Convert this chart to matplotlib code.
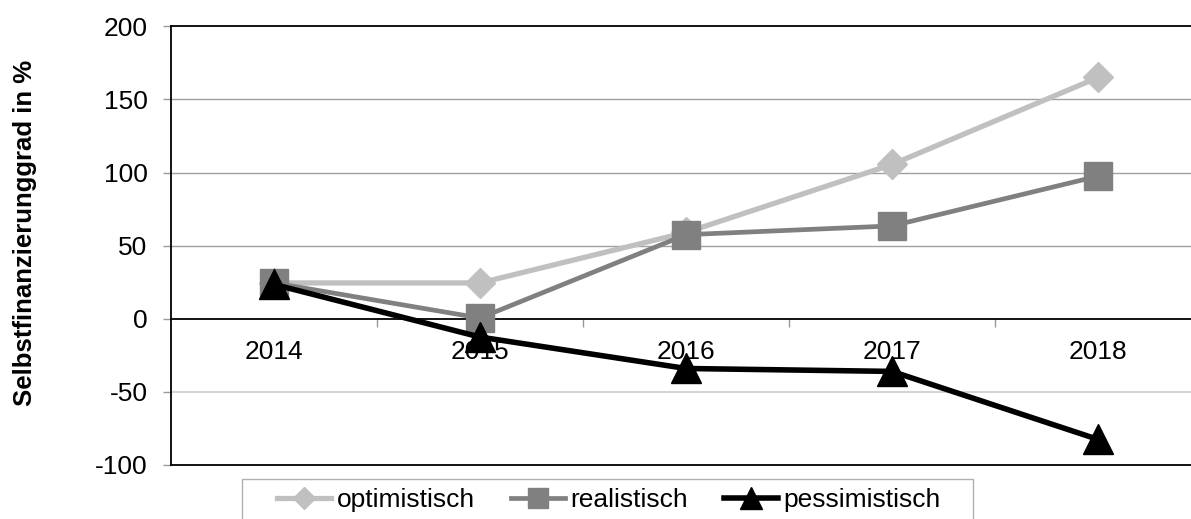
import matplotlib
matplotlib.use("Agg")
import matplotlib.pyplot as plt
from matplotlib.ticker import FixedLocator, NullFormatter
from matplotlib.patches import Rectangle

plt.rcParams['font.family'] = ['Liberation Sans', 'DejaVu Sans']

years = ['2014', '2015', '2016', '2017', '2018']
optimistisch = [24.5, 24.5, 59, 105.5, 165]
realistisch = [24.5, 0.5, 57.5, 63.5, 97.5]
pessimistisch = [23.5, -12.5, -34, -36, -82.5]
yticks = [-100, -50, 0, 50, 100, 150, 200]

W, H = 1191, 519
fig = plt.figure(figsize=(W / 100, H / 100), dpi=100)
ax = fig.add_axes([171 / W, 1 - 465 / H, 1030 / W, (465 - 26.3) / H])

x = list(range(len(years)))
ax.plot(x, optimistisch, color='#c0c0c0', lw=3.8, marker='D', ms=15.5,
        mec='#c0c0c0', mfc='#c0c0c0', label='optimistisch', zorder=3)
ax.plot(x, realistisch, color='#808080', lw=3.4, marker='s', ms=20,
        mec='#808080', mfc='#808080', label='realistisch', zorder=4)
ax.plot(x, pessimistisch, color='black', lw=4.0, marker='^', ms=21,
        mec='black', mfc='black', label='pessimistisch', zorder=5)

ax.set_xlim(-0.5, 4.5)
ax.set_ylim(-100, 200)
ax.set_yticks(yticks)
ax.set_yticklabels([str(v) for v in yticks], fontsize=19)
ax.tick_params(axis='y', length=6, color='#999999', width=1, pad=11)

# grid lines
for v in [50, 100, 150]:
    ax.axhline(v, color='#a0a0a0', lw=1.0, zorder=1)
ax.axhline(-50, color='#d4d4d4', lw=1.5, zorder=1)
ax.axhline(-100, color='black', lw=1.3, zorder=2, clip_on=False)

# x axis at zero
ax.spines['bottom'].set_position(('data', 0))
ax.spines['bottom'].set_linewidth(1.3)
for s in ['left', 'top', 'right']:
    ax.spines[s].set_linewidth(1.3)
ax.set_xticks(x)
ax.set_xticklabels(years, fontsize=19)
ax.tick_params(axis='x', which='major', length=0, pad=15)
ax.xaxis.set_minor_locator(FixedLocator([0.5, 1.5, 2.5, 3.5]))
ax.xaxis.set_minor_formatter(NullFormatter())
ax.tick_params(axis='x', which='minor', length=6, color='#999999', width=1)

fig.text(25 / W, 1 - 233 / H, 'Selbstfinanzierunggrad in %', rotation=90,
         fontsize=18.5, fontweight='bold', ha='center', va='center')

# legend frame (extends past the bottom edge)
fig.patches.append(Rectangle((241.7 / W, -0.05), (972.7 - 241.7) / W,
                             (1 - 479.3 / H) + 0.05, transform=fig.transFigure,
                             fill=False, edgecolor='#b0b0b0', lw=1.0))

leg = fig.legend(loc='center left', bbox_to_anchor=(272 / W, 1 - 500 / H),
                 ncol=3, fontsize=19, frameon=False,
                 handlelength=2.05, handletextpad=0.2,
                 columnspacing=1.36, borderpad=0.2, borderaxespad=0,
                 markerscale=0.75)

fig.savefig('out.png', dpi=100)
